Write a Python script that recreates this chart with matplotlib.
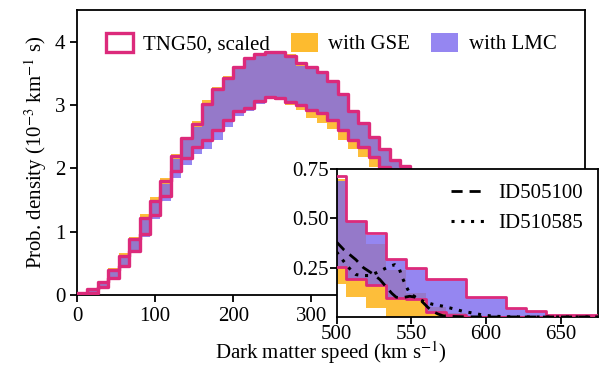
import numpy as np
import matplotlib
matplotlib.use("Agg")
import matplotlib.pyplot as plt
from matplotlib.patches import Patch

plt.rcParams['font.family'] = ['Liberation Serif', 'DejaVu Serif']
plt.rcParams['mathtext.fontset'] = 'stix'
plt.rcParams['font.size'] = 15

# bin edges (km/s)
bin_width = 40.0 / 3.0
n_bins = 51

tng_hi = [0.03, 0.09, 0.21, 0.40, 0.62, 0.88, 1.22, 1.48, 1.80, 2.20,
          2.48, 2.70, 3.02, 3.25, 3.42, 3.60, 3.74, 3.80, 3.83, 3.83,
          3.78, 3.67, 3.60, 3.52, 3.38, 3.18, 2.90, 2.72, 2.50, 2.30,
          2.13, 2.03, 1.80, 1.60, 1.40, 1.20, 1.00, 0.715, 0.487, 0.427,
          0.294, 0.25, 0.19, 0.19, 0.10, 0.10, 0.045, 0.03, 0.01, 0.01, 0.01]
tng_lo = [0.00, 0.03, 0.12, 0.27, 0.46, 0.70, 0.97, 1.26, 1.56, 1.95,
          2.17, 2.34, 2.45, 2.60, 2.77, 2.90, 2.95, 3.06, 3.13, 3.11,
          3.04, 3.00, 2.92, 2.88, 2.77, 2.60, 2.45, 2.33, 2.18, 2.02,
          1.85, 1.62, 1.42, 1.22, 1.02, 0.80, 0.55, 0.253, 0.19, 0.16,
          0.096, 0.09, 0.025, 0.01, 0.0, 0.0, 0.0, 0.0, 0.0, 0.0, 0.0]
gse_hi = [0.03, 0.10, 0.22, 0.43, 0.66, 0.92, 1.28, 1.55, 1.85, 2.22,
          2.50, 2.75, 3.08, 3.28, 3.45, 3.62, 3.74, 3.82, 3.83, 3.82,
          3.80, 3.66, 3.58, 3.50, 3.36, 3.15, 2.88, 2.70, 2.48, 2.28,
          2.10, 2.00, 1.78, 1.58, 1.38, 1.18, 0.98, 0.70, 0.48, 0.37,
          0.238, 0.12, 0.05, 0.02, 0.0, 0.0, 0.0, 0.0, 0.0, 0.0, 0.0]
gse_lo = [0.00, 0.03, 0.12, 0.27, 0.46, 0.70, 0.97, 1.26, 1.56, 1.95,
          2.17, 2.34, 2.45, 2.60, 2.77, 2.90, 2.95, 3.04, 3.10, 3.08,
          3.00, 2.92, 2.80, 2.72, 2.62, 2.45, 2.30, 2.18, 2.02, 1.86,
          1.70, 1.50, 1.30, 1.10, 0.90, 0.68, 0.45, 0.165, 0.10, 0.045,
          0.0, 0.0, 0.0, 0.0, 0.0, 0.0, 0.0, 0.0, 0.0, 0.0, 0.0]
lmc_hi = [0.03, 0.08, 0.20, 0.38, 0.60, 0.85, 1.18, 1.45, 1.76, 2.15,
          2.45, 2.66, 2.98, 3.22, 3.40, 3.58, 3.72, 3.78, 3.82, 3.82,
          3.76, 3.62, 3.58, 3.50, 3.36, 3.16, 2.88, 2.70, 2.48, 2.28,
          2.12, 2.02, 1.80, 1.60, 1.40, 1.20, 1.00, 0.69, 0.48, 0.415,
          0.29, 0.245, 0.185, 0.185, 0.10, 0.10, 0.04, 0.03, 0.005, 0.005, 0.005]
lmc_lo = [0.00, 0.02, 0.10, 0.24, 0.42, 0.66, 0.92, 1.20, 1.48, 1.85,
          2.05, 2.22, 2.30, 2.45, 2.65, 2.82, 2.90, 3.02, 3.10, 3.08,
          3.02, 2.98, 2.90, 2.86, 2.75, 2.58, 2.43, 2.31, 2.16, 2.00,
          1.83, 1.60, 1.40, 1.20, 1.00, 0.78, 0.53, 0.253, 0.19, 0.16,
          0.096, 0.09, 0.025, 0.01, 0.0, 0.0, 0.0, 0.0, 0.0, 0.0, 0.0]

# smooth curves in inset (km/s, density)
id505100_v = [500, 505, 513, 518, 524, 529, 533, 537, 540, 544, 549, 553, 557, 561, 564, 568, 571, 576, 585, 600, 620, 650, 675]
id505100_p = [0.38, 0.34, 0.29, 0.25, 0.22, 0.19, 0.155, 0.12, 0.10, 0.098, 0.105, 0.10, 0.08, 0.05, 0.03, 0.015, 0.007, 0.003, 0.001, 0.0, 0.0, 0.0, 0.0]
id510585_v = [500, 504, 507, 510, 513, 517, 522, 527, 531, 535, 539, 542, 544, 547, 549, 553, 558, 564, 571, 578, 584, 591, 598, 605, 615, 630, 650, 675]
id510585_p = [0.33, 0.29, 0.26, 0.235, 0.215, 0.21, 0.21, 0.225, 0.24, 0.255, 0.265, 0.245, 0.20, 0.15, 0.12, 0.10, 0.08, 0.065, 0.055, 0.042, 0.03, 0.02, 0.01, 0.004, 0.001, 0.0, 0.0, 0.0]

main_xticks = [0, 100, 200, 300]
main_yticks = [0, 1, 2, 3, 4]
inset_xticks = [500, 550, 600, 650]
inset_yticks = [0.25, 0.50, 0.75]
inset_yticklabels = ['0.25', '0.50', '0.75']

PINK = '#dc2a7b'
ORANGE = '#fdbb2f'
PURPLE = '#7b68ee'

edges = np.arange(n_bins + 1) * bin_width


def draw_bands(ax, lw):
    def band(lo, hi, **kw):
        lo = np.asarray(lo, float)
        hi = np.asarray(hi, float)
        ax.fill_between(edges, np.r_[lo, lo[-1]], np.r_[hi, hi[-1]], step='post', **kw)
    band(gse_lo, gse_hi, facecolor=ORANGE, edgecolor='none', alpha=0.95, zorder=1)
    band(lmc_lo, lmc_hi, facecolor=PURPLE, edgecolor='none', alpha=0.8, zorder=2)
    band(tng_lo, tng_hi, facecolor='none', edgecolor=PINK, lw=lw, zorder=3)


fig = plt.figure(figsize=(6.13, 3.66), dpi=100)
ax = fig.add_axes([0.1256, 0.194, 0.8287, 0.7787])
draw_bands(ax, 2.4)
ax.set_xlim(0, 650)
ax.set_ylim(0, 4.5)
ax.set_xticks(main_xticks)
ax.set_yticks(main_yticks)
ax.set_xlabel(r'Dark matter speed (km s$^{-1}$)', labelpad=10)
ax.set_ylabel(r'Prob. density (10$^{-3}$ km$^{-1}$ s)', labelpad=4)
for s in ax.spines.values():
    s.set_linewidth(1.3)
ax.tick_params(direction='out', length=5, width=1.3, labelsize=15)

handles = [Patch(facecolor='white', edgecolor=PINK, lw=2.4, label='TNG50, scaled'),
           Patch(facecolor=ORANGE, edgecolor='none', label='with GSE'),
           Patch(facecolor=PURPLE, alpha=0.8, edgecolor='none', label='with LMC')]
ax.legend(handles=handles, loc='upper center', ncol=3, frameon=False,
          fontsize=15, handlelength=1.3, handleheight=1.0, columnspacing=1.0,
          handletextpad=0.5, bbox_to_anchor=(0.5, 0.985))

axin = fig.add_axes([0.549, 0.1339, 0.4263, 0.4044])
axin.set_facecolor('white')
draw_bands(axin, 2.0)
axin.plot(id505100_v, id505100_p, color='black', ls=(0, (4, 2.5)), lw=2.0, label='ID505100', zorder=4)
axin.plot(id510585_v, id510585_p, color='black', ls=(0, (1, 2.2)), lw=2.2, label='ID510585', zorder=4)
axin.set_xlim(500, 675)
axin.set_ylim(0, 0.75)
axin.set_xticks(inset_xticks)
axin.set_yticks(inset_yticks)
axin.set_yticklabels(inset_yticklabels)
for s in axin.spines.values():
    s.set_linewidth(1.3)
axin.tick_params(direction='out', length=5, width=1.3, labelsize=15, pad=0.5)
axin.legend(loc='upper right', frameon=False, fontsize=15, handlelength=1.6,
            handletextpad=0.7, borderaxespad=0.3)

fig.savefig('out.png', dpi=100)
